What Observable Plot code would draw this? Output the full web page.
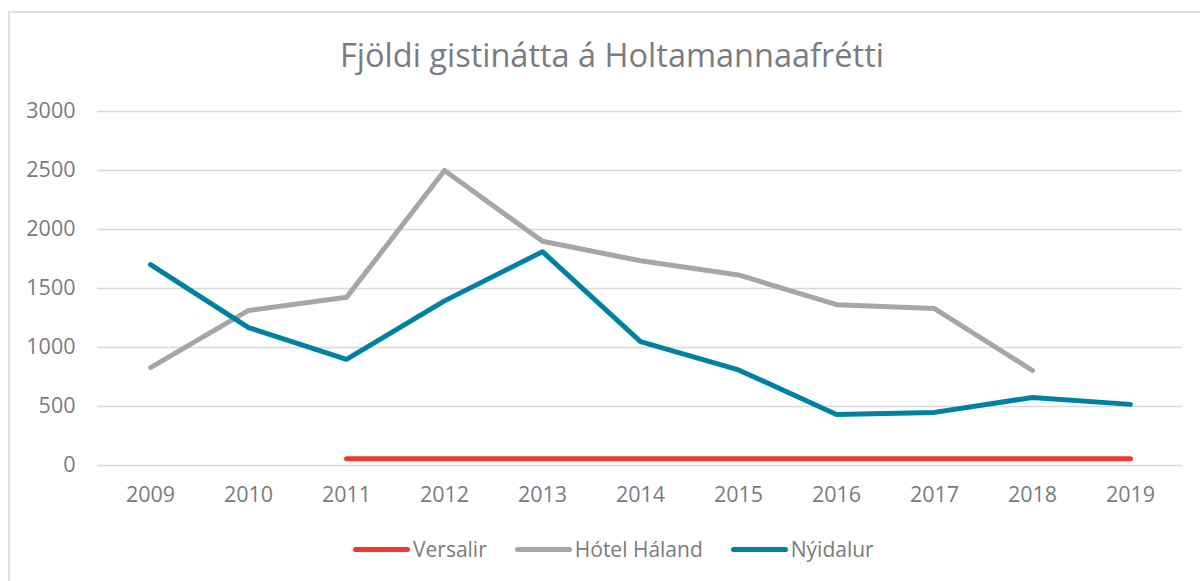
<!DOCTYPE html>
<html>
<head>
<meta charset="utf-8">
<script src="https://cdn.jsdelivr.net/npm/d3@7"></script>
<script src="https://cdn.jsdelivr.net/npm/@observablehq/plot@0.6"></script>
<style>
  html, body { margin: 0; padding: 0; background: #fff; }
  body { width: 1200px; height: 581px; overflow: hidden; position: relative; font-family: "Open Sans", sans-serif; color: #7b7b80; }
  #frame { position: absolute; left: 8px; top: 11px; width: 1300px; height: 700px; border-left: 2px solid #e0e0e0; border-top: 2px solid #e0e0e0; }
  #title { position: absolute; left: 0; top: 32px; width: 1224px; text-align: center; font-size: 32.5px; line-height: 46px; color: #7b7b80; white-space: nowrap; }
  #chart { position: absolute; left: 0; top: 95px; }
  #legend { position: absolute; left: 353px; top: 534px; display: flex; align-items: center; font-size: 21px; line-height: 30px; color: #7b7b80; white-space: nowrap; }
  .item { display: flex; align-items: center; margin-right: 28px; }
  .sw { width: 57px; height: 5px; border-radius: 3px; margin-right: 3px; }
</style>
</head>
<body>
<div id="frame"></div>
<div id="title">Fjöldi gistinátta á Holtamannaafrétti</div>
<div id="chart"></div>
<div id="legend"></div>
<script>
const years = [2009, 2010, 2011, 2012, 2013, 2014, 2015, 2016, 2017, 2018, 2019];
const seriesNames = ["Versalir", "Hótel Háland", "Nýidalur"];
const versalir = [null, null, 57, 57, 57, 57, 57, 57, 57, 57, 57];
const hotelHaland = [830, 1314, 1425, 2500, 1900, 1735, 1615, 1363, 1330, 805, null];
const nyidalur = [1703, 1169, 900, 1395, 1812, 1050, 810, 432, 450, 577, 518];
const yTicks = [0, 500, 1000, 1500, 2000, 2500, 3000];
const colors = ["#ef3a2b", "#a6a6a9", "#0181a1"];

const valuesBySeries = [versalir, hotelHaland, nyidalur];
const rows = [];
seriesNames.forEach((name, i) => {
  years.forEach((yr, j) => {
    const v = valuesBySeries[i][j];
    if (v != null) rows.push({series: name, year: String(yr), value: v});
  });
});

const chart = Plot.plot({
  width: 1200,
  height: 440,
  marginTop: 16,
  marginBottom: 70,
  marginLeft: 97,
  marginRight: 18,
  style: {fontFamily: "Open Sans, sans-serif", fontSize: "21.5px", color: "#7b7b80", background: "transparent"},
  x: {type: "point", domain: years.map(String), padding: 0.5, label: null, tickSize: 0, tickPadding: 21},
  y: {domain: [0, 3000], ticks: yTicks, tickFormat: d3.format("d"), label: null, tickSize: 0, tickPadding: 22},
  color: {domain: seriesNames, range: colors},
  marks: [
    Plot.gridY(yTicks, {stroke: "#d9d9d9", strokeOpacity: 1, strokeWidth: 1.5}),
    Plot.line(rows, {x: "year", y: "value", z: "series", stroke: "series", strokeWidth: 5, strokeLinecap: "round", strokeLinejoin: "round"})
  ]
});
document.getElementById("chart").appendChild(chart);

const legend = document.getElementById("legend");
seriesNames.forEach((name, i) => {
  const item = document.createElement("div");
  item.className = "item";
  const sw = document.createElement("div");
  sw.className = "sw";
  sw.style.background = colors[i];
  const t = document.createElement("span");
  t.textContent = name;
  item.appendChild(sw);
  item.appendChild(t);
  legend.appendChild(item);
});
</script>
</body>
</html>
